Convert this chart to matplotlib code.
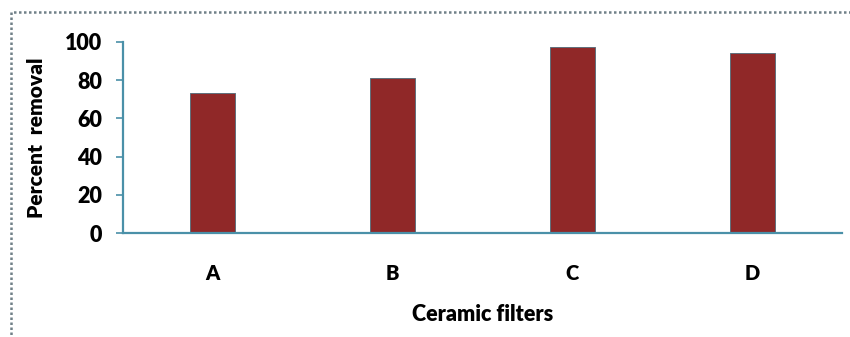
import matplotlib
matplotlib.use("Agg")
import matplotlib.pyplot as plt
from matplotlib.patches import Rectangle

plt.rcParams['font.family'] = ['Lato', 'DejaVu Sans']

filters = ["A", "B", "C", "D"]
removal = [73.5, 81, 97.5, 94.2]
yticks = [0, 20, 40, 60, 80, 100]

axis_col = "#4a90a8"
bar_col = "#902828"

fig = plt.figure(figsize=(8.5, 3.37), dpi=100)
ax = fig.add_axes([123/850, 1 - 233/337, (842 - 123)/850, (233 - 42)/337])

ax.bar(range(len(filters)), removal, width=0.25, color=bar_col,
       edgecolor="#5f6f7c", linewidth=0.7, zorder=2)

ax.set_xlim(-0.5, len(filters) - 0.5)
ax.set_ylim(0, 100)
ax.set_yticks(yticks)
ax.set_xticks(range(len(filters)))
ax.set_xticklabels(filters)

for side in ["top", "right"]:
    ax.spines[side].set_visible(False)
for side in ["left", "bottom"]:
    ax.spines[side].set_color(axis_col)
    ax.spines[side].set_linewidth(1.6)
    ax.spines[side].set_zorder(3)

ax.tick_params(axis="y", direction="out", length=5, width=1.2, color=axis_col,
               pad=10, labelsize=15.5)
ax.tick_params(axis="x", length=0, pad=22, labelsize=14.5)
for lbl in ax.get_yticklabels() + ax.get_xticklabels():
    lbl.set_fontweight("heavy")

ax.set_ylabel("Percent  removal", fontsize=15, fontweight="heavy")
ax.yaxis.set_label_coords(-0.107, 0.5)
ax.set_xlabel("Ceramic filters", fontsize=15.5, fontweight="heavy")
ax.xaxis.set_label_coords(0.5, -0.37)

# dotted frame around the chart area
frame = Rectangle((10.5/850, -0.1), 1.0, 1 - 12/337 + 0.1, transform=fig.transFigure,
                  fill=False, edgecolor="#708088", linewidth=1.8,
                  linestyle=(0, (1, 1)), clip_on=False)
fig.patches.append(frame)

fig.savefig("out.png", dpi=100)
